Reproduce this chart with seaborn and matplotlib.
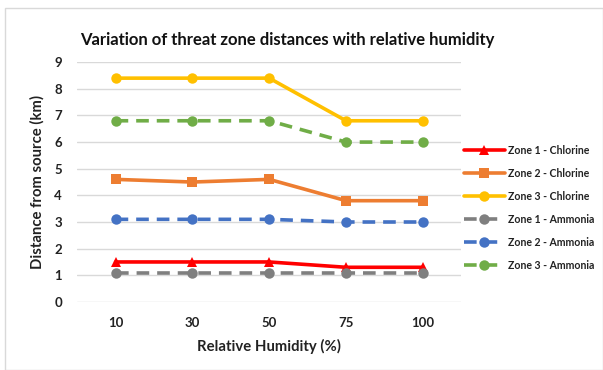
import matplotlib
matplotlib.use("Agg")
import matplotlib.pyplot as plt
import seaborn as sns
import pandas as pd
from matplotlib.patches import Rectangle

humidity = ["10", "30", "50", "75", "100"]
zone1_cl = [1.5, 1.5, 1.5, 1.3, 1.3]
zone2_cl = [4.6, 4.5, 4.6, 3.8, 3.8]
zone3_cl = [8.4, 8.4, 8.4, 6.8, 6.8]
zone1_nh3 = [1.1, 1.1, 1.1, 1.1, 1.1]
zone2_nh3 = [3.1, 3.1, 3.1, 3.0, 3.0]
zone3_nh3 = [6.8, 6.8, 6.8, 6.0, 6.0]

series = [
    ("Zone 1 - Chlorine", zone1_cl, "#FF0000", "-", "^"),
    ("Zone 2 - Chlorine", zone2_cl, "#ED7D31", "-", "s"),
    ("Zone 3 - Chlorine", zone3_cl, "#FFC000", "-", "o"),
    ("Zone 1 - Ammonia", zone1_nh3, "#7F7F7F", (0, (3.5, 2.2)), "o"),
    ("Zone 2 - Ammonia", zone2_nh3, "#4472C4", (0, (3.5, 2.2)), "o"),
    ("Zone 3 - Ammonia", zone3_nh3, "#70AD47", (0, (3.5, 2.2)), "o"),
]

sns.set_theme(style="white")
plt.rcParams['font.family'] = ['Lato', 'DejaVu Sans']

fig = plt.figure(figsize=(6.03, 3.70), dpi=100)
ax = fig.add_axes([0.128, 0.184, 0.637, 0.648])

for name, vals, color, ls, mk in series:
    df = pd.DataFrame({"x": list(range(len(humidity))), "y": vals})
    sns.lineplot(data=df, x="x", y="y", ax=ax, color=color, linestyle=ls,
                 linewidth=2.6, marker=mk, markersize=7.5, markeredgewidth=0,
                 label=name)

ax.set_xlim(-0.5, len(humidity) - 0.5)
ax.set_ylim(0, 9)
ax.set_yticks(range(0, 10))
ax.set_xticks(range(len(humidity)))
ax.set_xticklabels(humidity)
ax.grid(axis="y", color="#D9D9D9", linewidth=1)
ax.set_axisbelow(True)
for s in ax.spines.values():
    s.set_visible(False)
ax.tick_params(axis="y", length=0, labelsize=9.5, colors="#222222", pad=11)
ax.tick_params(axis="x", length=0, labelsize=9.5, colors="#222222", pad=11)
for lab in ax.get_xticklabels() + ax.get_yticklabels():
    lab.set_fontweight("bold")
ax.set_xlabel("Relative Humidity (%)", fontsize=10.7, fontweight="bold", color="#222222", labelpad=7)
ax.set_ylabel("Distance from source (km)", fontsize=10.7, fontweight="bold", color="#222222", labelpad=7)
ax.set_title("Variation of threat zone distances with relative humidity",
             fontsize=12.0, fontweight="bold", color="#111111", pad=12, x=0.547)

leg = ax.legend(loc="upper left", bbox_to_anchor=(0.995, 0.672), frameon=False,
                fontsize=7.6, labelspacing=1.13, handlelength=3.9, handletextpad=0.3,
                borderaxespad=0)
for t in leg.get_texts():
    t.set_fontweight("bold")
    t.set_color("#222222")

fig.patches.append(Rectangle((0.008, 0.0), 0.992, 0.978, transform=fig.transFigure,
                             fill=False, edgecolor="#D9D9D9", linewidth=1))

fig.savefig("out.png", dpi=100)
